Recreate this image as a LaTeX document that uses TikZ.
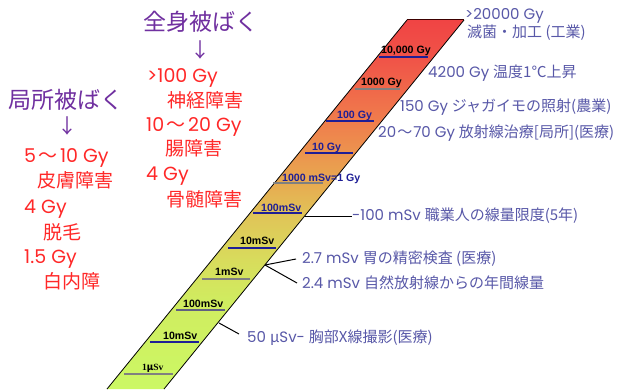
\documentclass[tikz,border=0pt]{standalone}
\usepackage{fontspec}
\setmainfont{Poppins}
\newfontfamily\jp{Noto Sans CJK JP}
\newfontfamily\lab{Liberation Sans}
\newfontfamily\labser{Liberation Serif}
\newcommand{\wv}[1]{\hspace{#1}{\jp ～}\hspace{#1}}
\definecolor{purp}{RGB}{112,48,160}
\definecolor{redt}{RGB}{255,40,40}
\definecolor{blut}{RGB}{88,88,168}
\definecolor{navy}{RGB}{30,30,150}
\definecolor{tgray}{RGB}{128,128,128}
\definecolor{tgb}{RGB}{96,96,130}
\definecolor{g0}{RGB}{204,248,100}
\definecolor{g1}{RGB}{208,236,96}
\definecolor{g2}{RGB}{216,220,92}
\definecolor{g3}{RGB}{224,196,88}
\definecolor{g4}{RGB}{232,168,80}
\definecolor{g5}{RGB}{240,124,76}
\definecolor{g6}{RGB}{240,84,72}
\definecolor{g7}{RGB}{240,68,68}
\pgfdeclareverticalshading{bandshade}{100bp}{color(0bp)=(g0); color(25bp)=(g0); color(37bp)=(g1); color(42.5bp)=(g2); color(48.6bp)=(g3); color(53.3bp)=(g4); color(61.5bp)=(g5); color(69.6bp)=(g6); color(75bp)=(g7); color(100bp)=(g7)}
\begin{document}
\begin{tikzpicture}[x=1pt,y=1pt,
  ptitle/.style={text=purp, font=\jp\fontsize{23}{23}\selectfont, anchor=west, inner sep=0pt},
  parrow/.style={text=purp, font=\jp\fontsize{20}{20}\selectfont, inner sep=0pt},
  redl/.style={text=redt, font=\fontsize{19}{19}\selectfont, anchor=west, inner sep=0pt},
  redj/.style={text=redt, font=\jp\fontsize{19}{19}\selectfont, anchor=west, inner sep=0pt},
  blu/.style={text=blut, font=\fontsize{15}{15}\selectfont, anchor=west, inner sep=0pt},
  tlab/.style={font=\lab\bfseries\fontsize{10.6}{10.6}\selectfont, anchor=base west, inner sep=0pt},
  tkb/.style={draw=navy, line width=1.2pt},
  tkg/.style={draw=tgray, line width=2pt},
  tkgb/.style={draw=tgb, line width=1.8pt},
  callout/.style={draw=black, line width=1pt}]
\useasboundingbox (0,0) rectangle (623,389);
\fill[white] (0,0) rectangle (623,389);
% band
\coordinate (bTL) at (407,369);
\coordinate (bTR) at (464,369);
\coordinate (bBR) at (164,0);
\coordinate (bBL) at (107,0);
\shade[shading=bandshade] (bTL) -- (bTR) -- (bBR) -- (bBL) -- cycle;
\draw[black, line width=0.8pt] (bBL) -- (bTL);
\draw[black, line width=0.8pt] (bBR) -- (bTR);
\draw[black!60!red!60!black, line width=1pt] (bTL) -- (bTR);
% tick lines
\draw[tkb] (379,332) -- (428,332);
\draw[tkg] (355,300) -- (400,300);
\draw[tkb] (326,268) -- (374,268);
\draw[tkb] (305,236) -- (353,236);
\draw[tkg] (273,206) -- (323,206);
\draw[tkb] (253,176) -- (302,176);
\draw[tkb] (228,141) -- (276,141);
\draw[tkg] (202,110) -- (250,110);
\draw[tkgb] (176,79) -- (225,79);
\draw[tkb] (150,47) -- (199,47);
\draw[tkg] (124,15) -- (173,15);
% tick labels
\node[tlab] (l1) at (381,335) {10,000 Gy};
\node[tlab] (l2) at (361,303) {1000 Gy};
\node[tlab, text=navy] (l3) at (337,271) {100 Gy};
\node[tlab, text=navy] (l4) at (312,239) {10 Gy};
\node[tlab, text=navy] (l5) at (282,208) {1000 mSv=1 Gy};
\node[tlab, text=navy] (l6) at (261,178) {100mSv};
\node[tlab] (l7) at (240,145) {10mSv};
\node[tlab] (l8) at (215,114) {1mSv};
\node[tlab] (l9) at (183,82) {100mSv};
\node[tlab] (l10) at (163,50) {10mSv};
\node[tlab, font=\labser\bfseries\fontsize{9.5}{9.5}\selectfont] (l11) at (142,19) {1{\jp μ}Sv};
% left column
\node[ptitle] (lt) at (8,289) {局所被ばく};
\node[parrow] (la) at (67,263) {↓};
\node[redl] (r1) at (24,231) {5\wv{2.5pt}10 Gy};
\node[redj] (r2) at (37,209) {皮膚障害};
\node[redl] (r3) at (24,180) {4 Gy};
\node[redj] (r4) at (43,157) {脱毛};
\node[redl] (r5) at (24,130) {1.5 Gy};
\node[redj] (r6) at (43,108) {白内障};
% middle column
\node[ptitle] (mt) at (143,367) {全身被ばく};
\node[parrow] (ma) at (200,339) {↓};
\node[redl] (m1) at (147,311) {>100 Gy};
\node[redj] (m2) at (167,289) {神経障害};
\node[redl] (m3) at (146,262) {10\wv{2.5pt}20 Gy};
\node[redj] (m4) at (165,241) {腸障害};
\node[redl] (m5) at (146,213) {4 Gy};
\node[redj] (m6) at (166,190) {骨髄障害};
% right texts
\node[blu] (t1) at (465,373) {>20000 Gy};
\node[blu] (t2) at (467,356) {{\jp 滅菌・加工 (工業)}};
\node[blu] (t3) at (428,316) {4200 Gy {\jp 温度1℃上昇}};
\node[blu] (t4) at (400,282) {150 Gy {\jp ジャガイモの照射(農業)}};
\node[blu] (t5) at (378,256) {20\wv{1pt}70 Gy {\jp 放射線治療[局所](医療)}};
\node[blu] (t6) at (352,173) {-100 mSv {\jp 職業人の線量限度(5年)}};
\node[blu] (t7) at (302,130) {2.7 mSv {\jp 胃の精密検査 (医療)}};
\node[blu] (t8) at (302,106) {2.4 mSv {\jp 自然放射線からの年間線量}};
\node[blu] (t9) at (247,51) {50 {\jp μ}Sv- {\jp 胸部X線撮影(医療)}};
% callouts
\coordinate (c6) at (305,173);
\coordinate (c78) at (265,124);
\coordinate (c9) at (219,66);
\draw[callout] (c6) -- (t6.west);
\draw[callout] (c78) -- ([xshift=-6pt]t7.west);
\draw[callout] (c78) -- ([xshift=-5pt]t8.west);
\draw[callout] (c9) -- ([xshift=-8pt,yshift=4pt]t9.west);
\end{tikzpicture}
\end{document}
